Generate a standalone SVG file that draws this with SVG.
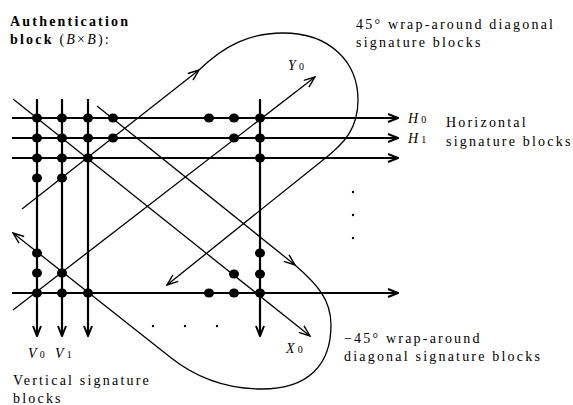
<svg xmlns="http://www.w3.org/2000/svg" width="573" height="405" viewBox="0 0 573 405">
<style>
text{font-family:"Liberation Serif","Times New Roman",serif;font-size:14px;letter-spacing:2.2px;fill:#000}
.b{font-weight:bold}
.i{font-style:italic}
.sub{font-size:10px;font-style:normal;letter-spacing:0}
.thick{stroke:#000;stroke-width:2.2;fill:none}
.thin{stroke:#000;stroke-width:1.3;fill:none}
.dot{fill:#000}
</style>
<defs>
<marker id="at" markerUnits="userSpaceOnUse" viewBox="0 0 12 10" refX="11" refY="5" markerWidth="12" markerHeight="10" orient="auto">
<path d="M1,1 L11,5 L1,9" fill="none" stroke="#000" stroke-width="2"/>
</marker>
<marker id="an" markerUnits="userSpaceOnUse" viewBox="0 0 13 10" refX="12" refY="5" markerWidth="13" markerHeight="10" orient="auto">
<path d="M1,0.8 L12,5 L1,9.2" fill="none" stroke="#000" stroke-width="1.4"/>
</marker>
</defs>

<g id="connectors">
<g id="horizontal">
<line class="thick" x1="12" y1="118" x2="398" y2="118" marker-end="url(#at)"/>
<line class="thick" x1="12" y1="138" x2="398" y2="138" marker-end="url(#at)"/>
<line class="thick" x1="12" y1="158" x2="398" y2="158" marker-end="url(#at)"/>
<line class="thick" x1="12" y1="293" x2="398" y2="293" marker-end="url(#at)"/>
</g>
<g id="vertical">
<line class="thick" x1="37" y1="99" x2="37" y2="336" marker-end="url(#at)"/>
<line class="thick" x1="62" y1="99" x2="62" y2="336" marker-end="url(#at)"/>
<line class="thick" x1="88" y1="99" x2="88" y2="336" marker-end="url(#at)"/>
<line class="thick" x1="260" y1="99" x2="260" y2="336" marker-end="url(#at)"/>
</g>
<g id="diagonals">
<line class="thin" x1="13" y1="99" x2="310" y2="336" marker-end="url(#an)"/>
<line class="thin" x1="97" y1="106" x2="295" y2="265" marker-end="url(#an)"/>
<line class="thin" x1="22" y1="209" x2="199" y2="70" marker-end="url(#an)"/>
<line class="thin" x1="13" y1="310" x2="315" y2="77" marker-end="url(#an)"/>
<path class="thin" d="M199,70 C225,45 250,33 283,33 C330,33 358,62 358,100 C358,128 345,143 323,160 L167,285" marker-end="url(#an)"/>
<path class="thin" d="M295,265 C318,285 331,300 331,325 C331,365 308,389 262,389 C225,389 195,377 170,357 L13,233" marker-end="url(#an)"/>
</g>
</g>

<g id="dots">
<ellipse class="dot" cx="37" cy="118" rx="5" ry="4.5"/>
<ellipse class="dot" cx="62" cy="118" rx="5" ry="4.5"/>
<ellipse class="dot" cx="88" cy="118" rx="5" ry="4.5"/>
<ellipse class="dot" cx="113" cy="118" rx="5" ry="4.5"/>
<ellipse class="dot" cx="209" cy="118" rx="5" ry="4.5"/>
<ellipse class="dot" cx="234" cy="118" rx="5" ry="4.5"/>
<ellipse class="dot" cx="260" cy="118" rx="5" ry="4.5"/>
<ellipse class="dot" cx="37" cy="138" rx="5" ry="4.5"/>
<ellipse class="dot" cx="62" cy="138" rx="5" ry="4.5"/>
<ellipse class="dot" cx="88" cy="138" rx="5" ry="4.5"/>
<ellipse class="dot" cx="113" cy="138" rx="5" ry="4.5"/>
<ellipse class="dot" cx="234" cy="138" rx="5" ry="4.5"/>
<ellipse class="dot" cx="260" cy="138" rx="5" ry="4.5"/>
<ellipse class="dot" cx="37" cy="158" rx="5" ry="4.5"/>
<ellipse class="dot" cx="62" cy="158" rx="5" ry="4.5"/>
<ellipse class="dot" cx="88" cy="158" rx="5" ry="4.5"/>
<ellipse class="dot" cx="260" cy="158" rx="5" ry="4.5"/>
<ellipse class="dot" cx="37" cy="178" rx="5" ry="4.5"/>
<ellipse class="dot" cx="62" cy="178" rx="5" ry="4.5"/>
<ellipse class="dot" cx="37" cy="253" rx="5" ry="4.5"/>
<ellipse class="dot" cx="260" cy="253" rx="5" ry="4.5"/>
<ellipse class="dot" cx="37" cy="273" rx="5" ry="4.5"/>
<ellipse class="dot" cx="62" cy="273" rx="5" ry="4.5"/>
<ellipse class="dot" cx="234" cy="274" rx="5" ry="4.5"/>
<ellipse class="dot" cx="260" cy="274" rx="5" ry="4.5"/>
<ellipse class="dot" cx="37" cy="293" rx="5" ry="4.5"/>
<ellipse class="dot" cx="62" cy="293" rx="5" ry="4.5"/>
<ellipse class="dot" cx="88" cy="293" rx="5" ry="4.5"/>
<ellipse class="dot" cx="209" cy="293" rx="5" ry="4.5"/>
<ellipse class="dot" cx="234" cy="293" rx="5" ry="4.5"/>
<ellipse class="dot" cx="260" cy="293" rx="5" ry="4.5"/>
</g>

<g id="ellipsis">
<circle class="dot" cx="153" cy="326" r="1.2"/>
<circle class="dot" cx="185" cy="326" r="1.2"/>
<circle class="dot" cx="217" cy="326" r="1.2"/>
<circle class="dot" cx="353" cy="192" r="1.2"/>
<circle class="dot" cx="353" cy="215" r="1.2"/>
<circle class="dot" cx="353" cy="238" r="1.2"/>
</g>

<g id="label-auth">
<text x="10" y="26" class="b">Authentication</text>
<text x="10" y="44"><tspan class="b">block</tspan> (<tspan class="i">B</tspan>×<tspan class="i">B</tspan>):</text>
</g>
<g id="label-diag45">
<text x="356" y="29">45° wrap-around diagonal</text>
<text x="356" y="47">signature blocks</text>
</g>
<g id="label-horizontal">
<text x="446" y="127">Horizontal</text>
<text x="446" y="146">signature blocks</text>
</g>
<g id="label-h">
<text x="408" y="123" class="i">H<tspan class="sub" dx="1">0</tspan></text>
<text x="408" y="143" class="i">H<tspan class="sub" dx="1">1</tspan></text>
</g>
<g id="label-y0"><text x="288" y="70" class="i">Y<tspan class="sub" dx="1">0</tspan></text></g>
<g id="label-x0"><text x="286" y="353" class="i">X<tspan class="sub" dx="1">0</tspan></text></g>
<g id="label-v">
<text x="28" y="358" class="i">V<tspan class="sub" dx="1">0</tspan></text>
<text x="55" y="358" class="i">V<tspan class="sub" dx="1">1</tspan></text>
</g>
<g id="label-vertical">
<text x="13" y="385">Vertical signature</text>
<text x="13" y="403">blocks</text>
</g>
<g id="label-diagm45">
<text x="344" y="343">−45° wrap-around</text>
<text x="344" y="361">diagonal signature blocks</text>
</g>
</svg>
